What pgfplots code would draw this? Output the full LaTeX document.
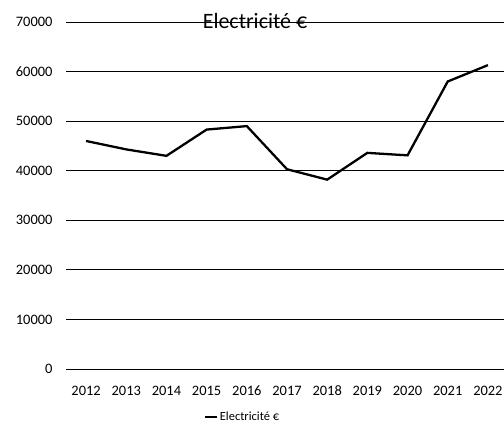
\documentclass[border=0pt]{standalone}
\usepackage{pgfplots}
\pgfplotsset{compat=1.18}
\usepackage{fontspec}
\setmainfont{Carlito}
\begin{document}
\begin{tikzpicture}
\useasboundingbox (0,0) rectangle (504bp,432bp);
\begin{axis}[
	at={(66bp,63bp)}, anchor=south west,
	scale only axis,
	width=442bp, height=347bp,
	xmin=-0.5, xmax=10.5,
	ymin=0, ymax=70000,
	xtick={0,...,10},
	xticklabels={2012,2013,2014,2015,2016,2017,2018,2019,2020,2021,2022},
	ytick={0,10000,...,70000},
	scaled y ticks=false,
	/pgf/number format/1000 sep={},
	/pgf/number format/assume math mode=true,
	axis line style={draw=none},
	major tick length=0pt,
	ymajorgrids=true,
	grid style={black, line width=0.9pt},
	tick label style={font=\fontsize{14.5}{17}\selectfont},
	yticklabel style={xshift=-10bp},
	xticklabel style={anchor=base, yshift=-26bp},
	title={Electricité €},
	title style={at={(0.4276,0.9856)}, anchor=center, font=\fontsize{22}{26}\selectfont},
	legend style={at={(0.40,-0.138)}, anchor=center, draw=none, fill=none,
		font=\fontsize{12.5}{14}\selectfont},
	legend image code/.code={\draw[#1, line width=1.6pt] (0cm,0cm) -- (0.42cm,0cm);},
]
\addplot[black, line width=2.3pt] coordinates {
	(0, 46000)
	(1, 44300)
	(2, 43000)
	(3, 48300)
	(4, 49000)
	(5, 40300)
	(6, 38200)
	(7, 43600)
	(8, 43100)
	(9, 58000)
	(10, 61300)
};
\addlegendentry{Electricité €}
\end{axis}
\end{tikzpicture}
\end{document}
